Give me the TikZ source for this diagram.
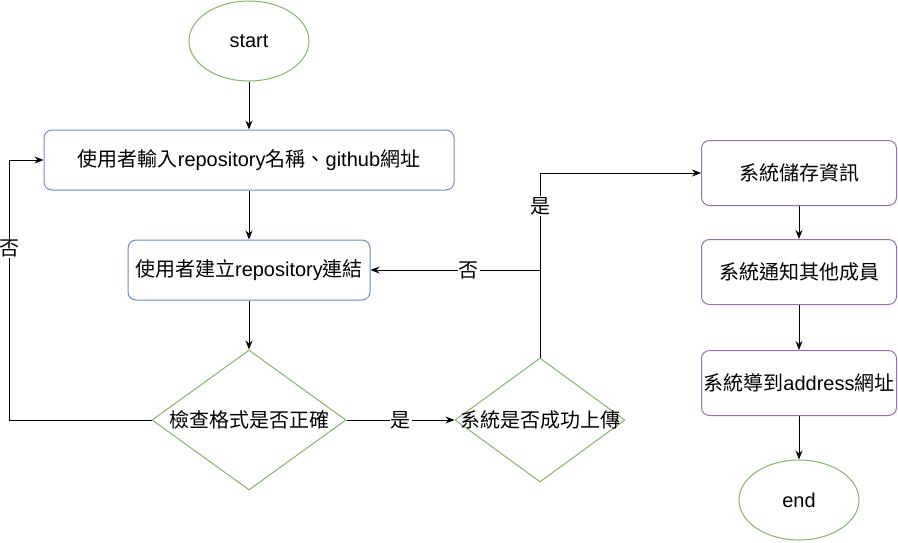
\documentclass[tikz,border=0pt]{standalone}
\usepackage{fontspec}
\setmainfont{Liberation Sans}
\newfontfamily\cjk{Noto Sans CJK TC}
\usetikzlibrary{shapes.geometric,arrows.meta}
\definecolor{termgreen}{HTML}{82B366}
\definecolor{userblue}{HTML}{6C8EBF}
\definecolor{syspurple}{HTML}{9673A6}
\begin{document}
\begin{tikzpicture}[x=1pt,y=-1pt,line width=1pt,>={Stealth[length=9pt,width=7pt]},font=\fontsize{20}{23}\selectfont]
  \tikzstyle{terminal}=[ellipse,draw=termgreen,minimum width=120pt,minimum height=80pt,inner sep=0pt]
  \tikzstyle{userbox}=[rectangle,rounded corners=8pt,draw=userblue,minimum height=60pt,inner sep=0pt]
  \tikzstyle{sysbox}=[rectangle,rounded corners=8pt,draw=syspurple,minimum width=195pt,minimum height=65pt,inner sep=0pt]
  \tikzstyle{decision}=[diamond,draw=termgreen,inner sep=0pt]
  \tikzstyle{flowlabel}=[fill=white,inner sep=1pt,font=\fontsize{20}{23}\selectfont\cjk]
  \useasboundingbox (0,0) rectangle (898,542);
  \node[terminal] (start) at (249,41) {start};
  \node[userbox,minimum width=410pt] (input) at (249,160) {{\cjk 使用者輸入}repository{\cjk 名稱、}github{\cjk 網址}};
  \node[userbox,minimum width=242pt] (connect) at (249,270) {{\cjk 使用者建立}repository{\cjk 連結}};
  \node[decision,minimum width=194pt,minimum height=140pt,aspect=1.386] (check) at (249,420) {\makebox[0pt]{\cjk 檢查格式是否正確}};
  \node[decision,minimum width=170pt,minimum height=124pt,aspect=1.371] (upload) at (540,420) {\makebox[0pt]{\cjk 系統是否成功上傳}};
  \node[sysbox] (save) at (799,173) {\cjk 系統儲存資訊};
  \node[sysbox] (notify) at (799,272) {\cjk 系統通知其他成員};
  \node[sysbox] (redirect) at (799,383) {\makebox[0pt]{{\cjk 系統導到}address{\cjk 網址}}};
  \node[terminal] (end) at (799,500) {end};
  % main flow
  \draw[->] (start) -- (input);
  \draw[->] (input) -- (connect);
  \draw[->] (connect) -- (check);
  \draw[->] (check.west) -- ++(-142,0) |- node[flowlabel,pos=0.33]{否} (input.west);
  \draw[->] (check.east) -- node[flowlabel]{是} (upload.west);
  \draw[->] (upload.north) |- node[flowlabel,pos=0.71]{否} (connect.east);
  \draw[->] (upload.north) |- node[flowlabel,pos=0.41]{是} (save.west);
  % system side
  \draw[->] (save) -- (notify);
  \draw[->] (notify) -- (redirect);
  \draw[->] (redirect) -- (end);
\end{tikzpicture}
\end{document}
